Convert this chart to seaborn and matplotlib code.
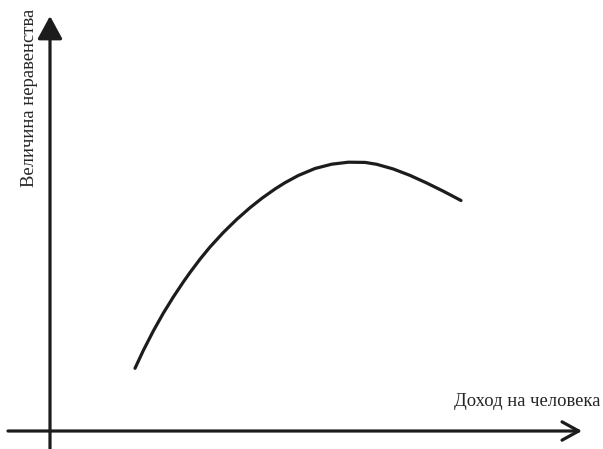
import matplotlib
matplotlib.use("Agg")
import matplotlib.pyplot as plt
import seaborn as sns
import pandas as pd

# Data (income per person vs inequality, arbitrary units)
income = [85, 93.3, 103.3, 113.3, 123.3, 133.3, 140, 150, 160, 173.3, 186.7,
          200, 212, 225, 235, 248.3, 265, 281.7, 298.3, 315, 326.7, 343.3,
          360, 376.7, 393.3, 411]
inequality = [62.7, 80.5, 100, 117.8, 134, 149, 158.5, 171.8, 184, 198.5, 211.6,
              223.3, 232.8, 242, 248.3, 255.5, 262.5, 266.8, 268.8, 268.6, 266.7,
              262, 255.6, 248, 239.8, 230.5]
x_label = "Доход на человека"
y_label = "Величина неравенства"

df = pd.DataFrame({"income": income, "inequality": inequality})

sns.set_theme(style="white")
plt.rcParams["font.family"] = ["Liberation Serif", "DejaVu Serif"]

fig = plt.figure(figsize=(6.03, 4.49), dpi=100)
ax = fig.add_axes([0, 0, 1, 1])
ax.set_xlim(-50, 553)
ax.set_ylim(-18, 431)
ax.axis("off")

sns.lineplot(data=df, x="income", y="inequality", ax=ax, color="#1c1c1c",
             linewidth=2.3, sort=False, estimator=None,
             solid_joinstyle="round", solid_capstyle="round")

# Axes with arrows
ax.annotate("", xy=(0, 415), xytext=(0, -18),
            arrowprops=dict(arrowstyle="-|>,head_length=0.7,head_width=0.38",
                            lw=2.3, color="#1c1c1c", mutation_scale=20,
                            shrinkA=0, shrinkB=0))
ax.annotate("", xy=(532, 0), xytext=(-42, 0),
            arrowprops=dict(arrowstyle="->,head_length=0.6,head_width=0.33",
                            lw=2.3, color="#1c1c1c", mutation_scale=20,
                            shrinkA=0, shrinkB=0))

ax.text(-20, 333, y_label, rotation=90, ha="center", va="center",
        fontsize=13.4, color="#262626")
ax.text(550, 29, x_label, ha="right", va="center", fontsize=13.4, color="#262626")

fig.savefig("out.png", dpi=100)
